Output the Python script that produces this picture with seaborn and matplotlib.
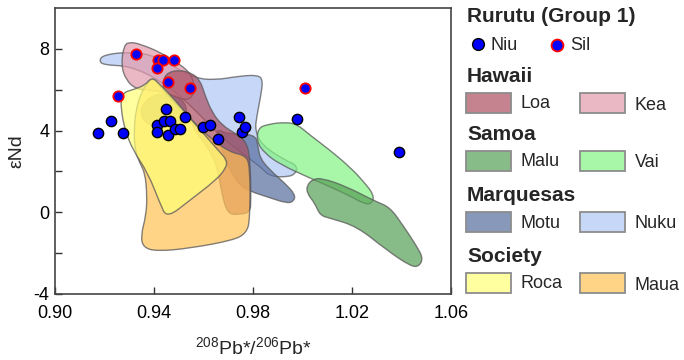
import numpy as np
import pandas as pd
import matplotlib
matplotlib.use("Agg")
import matplotlib.pyplot as plt
import seaborn as sns
from matplotlib.patches import Rectangle, PathPatch
from matplotlib.path import Path
from matplotlib.lines import Line2D

# ---------------- data ----------------
niu_x = [0.9175, 0.9225, 0.9273, 0.9450, 0.9413, 0.9413, 0.9442, 0.9466, 0.9457, 0.9484,
         0.9506, 0.9527, 0.9598, 0.9625, 0.9660, 0.9745, 0.9757, 0.9769, 0.9979, 1.0391]
niu_y = [3.87, 4.48, 3.87, 5.06, 4.26, 3.95, 4.49, 4.49, 3.77, 4.08,
         4.08, 4.67, 4.17, 4.26, 3.58, 4.67, 3.95, 4.17, 4.57, 2.97]
sil_x = [0.9327, 0.9416, 0.9438, 0.9481, 0.9413, 0.9458, 0.9547, 0.9253, 1.0011]
sil_y = [7.76, 7.47, 7.47, 7.47, 7.06, 6.37, 6.06, 5.67, 6.06]

# field outlines (x = 208Pb*/206Pb*, y = eNd)
nuku_x = [0.9178, 0.9198, 0.9283, 0.9384, 0.9485, 0.9566, 0.9646, 0.9747, 0.9820, 0.9840,
          0.9832, 0.9816, 0.9808, 0.9836, 0.9929, 0.9978, 0.9974, 0.9941, 0.9869, 0.9836,
          0.9768, 0.9687, 0.9606, 0.9525, 0.9424, 0.9303, 0.9194]
nuku_y = [7.45, 7.70, 7.84, 7.75, 7.11, 6.57, 6.47, 6.67, 6.72, 6.47,
          5.74, 4.75, 4.02, 3.28, 2.55, 2.30, 1.91, 1.72, 1.76, 2.16,
          2.79, 3.53, 4.51, 5.49, 6.47, 7.16, 7.21]
motu_x = [0.9646, 0.9699, 0.9808, 0.9820, 0.9828, 0.9869, 0.9929, 0.9970, 0.9966, 0.9937,
          0.9861, 0.9788, 0.9747, 0.9707, 0.9675]
motu_y = [4.12, 3.82, 3.82, 3.28, 2.65, 2.06, 1.42, 0.88, 0.54, 0.44,
          0.74, 1.03, 1.32, 2.06, 3.04]
motu2_x = [0.9343, 0.9376, 0.9432, 0.9497, 0.9533, 0.9529, 0.9489, 0.9416, 0.9360]
motu2_y = [5.00, 5.59, 5.83, 5.69, 5.20, 4.61, 4.22, 4.12, 4.41]
kea_x = [0.9279, 0.9303, 0.9343, 0.9424, 0.9505, 0.9553, 0.9566, 0.9545, 0.9497, 0.9444,
         0.9384, 0.9327, 0.9287, 0.9267]
kea_y = [8.19, 8.33, 8.24, 7.84, 7.25, 6.72, 5.98, 5.49, 5.59, 5.88,
         5.98, 6.03, 6.47, 7.21]
loa_x = [0.9436, 0.9457, 0.9505, 0.9553, 0.9586, 0.9606, 0.9634, 0.9675, 0.9727, 0.9768,
         0.9788, 0.9792, 0.9788, 0.9747, 0.9699, 0.9675, 0.9659, 0.9626, 0.9578, 0.9545,
         0.9505, 0.9465, 0.9440]
loa_y = [6.47, 6.86, 6.96, 6.81, 6.47, 5.74, 4.90, 4.26, 3.87, 3.53,
         2.79, 0.59, 0.00, -0.10, -0.10, 0.83, 2.06, 3.04, 3.77, 4.51,
         5.10, 5.49, 5.88]
roca_x = [0.9267, 0.9323, 0.9364, 0.9392, 0.9424, 0.9485, 0.9545, 0.9606, 0.9659, 0.9695,
          0.9691, 0.9650, 0.9545, 0.9452, 0.9424, 0.9376, 0.9315, 0.9283, 0.9267]
roca_y = [5.83, 6.03, 6.23, 6.62, 6.27, 5.49, 4.61, 3.77, 3.04, 2.55,
          2.16, 1.57, 0.59, -0.29, 0.44, 1.91, 3.04, 4.02, 5.00]
maua_x = [0.9376, 0.9396, 0.9424, 0.9485, 0.9545, 0.9626, 0.9707, 0.9768, 0.9788, 0.9788,
          0.9772, 0.9719, 0.9545, 0.9412, 0.9356, 0.9347, 0.9368, 0.9372, 0.9364, 0.9343,
          0.9323, 0.9319, 0.9327, 0.9347]
maua_y = [6.37, 6.57, 6.18, 5.39, 4.61, 3.63, 2.94, 2.79, 2.30, -0.39,
          -1.03, -1.37, -1.76, -1.91, -1.72, -1.13, -0.15, 0.83, 1.91, 2.40,
          3.04, 4.02, 5.00, 5.83]
vai_x = [0.9820, 0.9861, 0.9929, 0.9978, 1.0031, 1.0111, 1.0192, 1.0253, 1.0289, 1.0281,
         1.0253, 1.0172, 1.0031, 0.9909, 0.9848, 0.9816]
vai_y = [4.12, 4.31, 4.41, 4.31, 3.77, 3.04, 2.21, 1.42, 0.83, 0.44,
         0.39, 0.93, 1.67, 2.35, 2.89, 3.43]
malu_x = [1.0018, 1.0042, 1.0079, 1.0176, 1.0293, 1.0353, 1.0406, 1.0462, 1.0487, 1.0471,
          1.0438, 1.0341, 1.0220, 1.0111, 1.0071, 1.0050, 1.0018]
malu_y = [1.32, 1.62, 1.67, 1.27, 0.54, 0.25, -0.64, -1.67, -2.25, -2.65,
          -2.65, -1.86, -0.69, -0.29, -0.15, 0.44, 0.93]

x_ticks = [0.90, 0.94, 0.98, 1.02, 1.06]
x_ticklabels = ["0.90", "0.94", "0.98", "1.02", "1.06"]
y_ticks = [-4, 0, 4, 8]
y_minor = [-2, 2, 6]

# ---------------- style ----------------
sns.set_style("ticks")
plt.rcParams['font.family'] = ['Liberation Sans', 'DejaVu Sans']
plt.rcParams['axes.unicode_minus'] = False
plt.rcParams['mathtext.fontset'] = 'custom'
plt.rcParams['mathtext.rm'] = 'Liberation Sans'
plt.rcParams['mathtext.it'] = 'Liberation Sans:italic'
plt.rcParams['mathtext.bf'] = 'Liberation Sans:bold'

ALPHA = 0.7
def base(rgb):
    r, g, b = rgb
    return tuple(max(0, min(1, (c / 255 - (1 - ALPHA)) / ALPHA)) for c in (r, g, b))

colors = {
    "Loa": base((196, 132, 144)),
    "Kea": base((234, 184, 196)),
    "Malu": base((136, 187, 136)),
    "Vai": base((168, 248, 168)),
    "Motu": base((136, 153, 187)),
    "Nuku": base((200, 216, 248)),
    "Roca": base((255, 255, 160)),
    "Maua": base((255, 212, 136)),
}

W, H = 684, 360
fig = plt.figure(figsize=(W / 100, H / 100), dpi=100)
ax = fig.add_axes([55 / W, 1 - 294 / H, (451 - 55) / W, (294 - 8) / H])


def smooth_patch(xs, ys, **kw):
    """Closed outline drawn with quadratic Bezier segments (vertices act as control points)."""
    pts = list(zip(xs, ys))
    n = len(pts)
    mids = [((pts[i][0] + pts[(i + 1) % n][0]) / 2, (pts[i][1] + pts[(i + 1) % n][1]) / 2)
            for i in range(n)]
    verts = [mids[-1]]
    codes = [Path.MOVETO]
    for i in range(n):
        verts += [pts[i], mids[i]]
        codes += [Path.CURVE3, Path.CURVE3]
    verts.append(mids[-1])
    codes.append(Path.CLOSEPOLY)
    return PathPatch(Path(verts, codes), **kw)


edge = (0.35, 0.35, 0.35, 0.75)
fields = [
    ("Nuku", nuku_x, nuku_y),
    ("Motu", motu_x, motu_y),
    ("Motu", motu2_x, motu2_y),
    ("Kea", kea_x, kea_y),
    ("Loa", loa_x, loa_y),
    ("Maua", maua_x, maua_y),
    ("Roca", roca_x, roca_y),
    ("Vai", vai_x, vai_y),
    ("Malu", malu_x, malu_y),
]
for i, (name, xs, ys) in enumerate(fields):
    ax.add_patch(smooth_patch(xs, ys, facecolor=(*colors[name], ALPHA), edgecolor=edge,
                              linewidth=1.0, zorder=1 + i * 0.01))

df_niu = pd.DataFrame({"x": niu_x, "y": niu_y})
df_sil = pd.DataFrame({"x": sil_x, "y": sil_y})
sns.scatterplot(data=df_niu, x="x", y="y", ax=ax, color="#0000ff", edgecolor="black",
                linewidth=1.0, s=55, zorder=5)
sns.scatterplot(data=df_sil, x="x", y="y", ax=ax, color="#0000ff", edgecolor="red",
                linewidth=1.3, s=55, zorder=5)

ax.set_xlim(0.90, 1.06)
ax.set_ylim(-4, 10)
ax.set_xticks(x_ticks)
ax.set_xticklabels(x_ticklabels)
ax.set_yticks(y_ticks)
ax.set_yticks(y_minor, minor=True)
ax.tick_params(axis='both', which='both', direction='in', length=5, width=1,
               colors='#333333', labelcolor='black', labelsize=13)
ax.tick_params(axis='x', pad=8)
ax.tick_params(axis='y', pad=4)
for s in ax.spines.values():
    s.set_color('#444444')
    s.set_linewidth(1.2)
ax.set_xlabel(r'$^{208}$Pb*/$^{206}$Pb*', fontsize=14, labelpad=10)
ax.set_ylabel('εNd', fontsize=14, labelpad=6)

# ---------------- legend (figure coordinates) ----------------
def fx(px):
    return px / W
def fy(py):
    return 1 - py / H

head_fs = 15
item_fs = 13
fig.text(fx(467), fy(17), "Rurutu (Group 1)", fontsize=head_fs, fontweight='bold',
         va='center', ha='left')
fig.add_artist(Line2D([fx(478)], [fy(44)], marker='o', markersize=8.5,
                      markerfacecolor='#0000ff', markeredgecolor='black',
                      markeredgewidth=1.0, linestyle='none', transform=fig.transFigure))
fig.text(fx(491), fy(45), "Niu", fontsize=item_fs, va='center', ha='left')
fig.add_artist(Line2D([fx(557)], [fy(45)], marker='o', markersize=8.5,
                      markerfacecolor='#0000ff', markeredgecolor='red',
                      markeredgewidth=1.3, linestyle='none', transform=fig.transFigure))
fig.text(fx(570), fy(46), "Sil", fontsize=item_fs, va='center', ha='left')

groups = [
    ("Hawaii", 77, "Loa", "Kea"),
    ("Samoa", 135, "Malu", "Vai"),
    ("Marquesas", 196, "Motu", "Nuku"),
    ("Society", 257, "Roca", "Maua"),
]
for title, ty, a, b in groups:
    fig.text(fx(467), fy(ty), title, fontsize=head_fs, fontweight='bold',
             va='center', ha='left')
    py0 = ty + 16
    for name, px0, tx in ((a, 466, 520), (b, 580, 635)):
        fig.add_artist(Rectangle((fx(px0), fy(py0 + 20)), 45 / W, 20 / H,
                                 facecolor=(*colors[name], ALPHA),
                                 edgecolor=(0.55, 0.55, 0.55), linewidth=1.3,
                                 transform=fig.transFigure))
        fig.text(fx(tx), fy(py0 + 11 + (1 if px0 > 500 else 0)), name,
                 fontsize=item_fs, va='center', ha='left')

fig.savefig("out.png", dpi=100)
